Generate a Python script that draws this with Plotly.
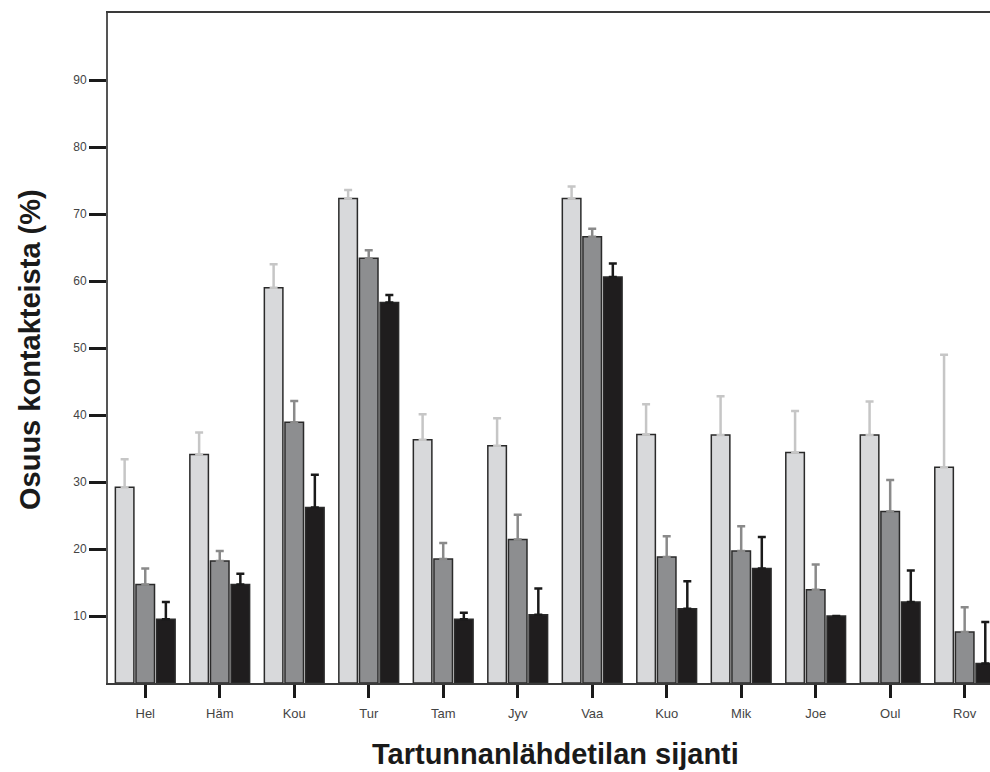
import plotly.graph_objects as go

# Regions (source location of the infection)
regions = ["Hel", "Häm", "Kou", "Tur", "Tam", "Jyv", "Vaa", "Kuo", "Mik", "Joe", "Oul", "Rov"]

# Share of contacts (%) for the three contact groups
share_light = [29.2, 34.1, 59.0, 72.3, 36.3, 35.4, 72.3, 37.1, 37.0, 34.4, 37.0, 32.2]
share_mid = [14.7, 18.2, 38.9, 63.4, 18.5, 21.4, 66.6, 18.8, 19.7, 13.9, 25.6, 7.6]
share_dark = [9.5, 14.7, 26.2, 56.8, 9.5, 10.2, 60.6, 11.1, 17.1, 10.0, 12.1, 2.9]

# Upper error (percentage points above the bar)
err_light = [4.2, 3.3, 3.5, 1.3, 3.8, 4.1, 1.8, 4.5, 5.8, 6.2, 5.0, 16.8]
err_mid = [2.4, 1.5, 3.2, 1.2, 2.4, 3.7, 1.2, 3.1, 3.7, 3.8, 4.7, 3.7]
err_dark = [2.6, 1.6, 4.9, 1.1, 1.0, 3.9, 2.0, 4.1, 4.7, 0.0, 4.7, 6.2]

y_ticks = [10, 20, 30, 40, 50, 60, 70, 80, 90]

series = [
    (share_light, err_light, "#d8d9db", "#c6c6c6"),
    (share_mid, err_mid, "#8d8e90", "#8a8a8a"),
    (share_dark, err_dark, "#1f1d1e", "#1a1a1a"),
]

fig = go.Figure()
for vals, errs, fill, ecol in series:
    fig.add_trace(go.Bar(
        x=regions,
        y=vals,
        marker=dict(color=fill, line=dict(color="#2a2a2a", width=1.5)),
        error_y=dict(type="data", symmetric=False, array=errs,
                     arrayminus=[0] * len(errs), color=ecol,
                     thickness=2.5, width=4),
        showlegend=False,
    ))

plot_left, plot_width = 108, 882

fig.update_layout(
    width=990,
    height=772,
    margin=dict(l=plot_left, r=0, t=13, b=89),
    paper_bgcolor="white",
    plot_bgcolor="white",
    barmode="group",
    bargap=0.17,
    bargroupgap=0.1,
    font=dict(family="Liberation Sans, Arial, sans-serif", color="#333333"),
    xaxis=dict(
        range=[-0.5, 11.34],
        showline=True, linecolor="#3a3a3a", linewidth=2, mirror=True,
        ticks="outside", ticklen=13, tickwidth=3, tickcolor="#1a1a1a",
        tickfont=dict(size=13, color="#444444"),
        ticklabelstandoff=4,
        showgrid=False, zeroline=False,
    ),
    yaxis=dict(
        range=[0, 100],
        tickvals=y_ticks,
        showline=True, linecolor="#555555", linewidth=2,
        ticks="outside", ticklen=17, tickwidth=3, tickcolor="#1a1a1a",
        tickfont=dict(size=12, color="#444444"),
        showgrid=False, zeroline=False,
    ),
    annotations=[
        dict(
            text="<b>Tartunnanlähdetilan sijanti</b>",
            xref="paper", yref="paper",
            x=(555 - plot_left) / plot_width, y=(683 - 754) / 670,
            xanchor="center", yanchor="middle",
            showarrow=False,
            font=dict(size=29, color="#1a1a1a"),
        ),
        dict(
            text="<b>Osuus kontakteista (%)</b>",
            xref="paper", yref="paper",
            x=(30 - plot_left) / plot_width, y=(683 - 350) / 670,
            xanchor="center", yanchor="middle",
            textangle=-90,
            showarrow=False,
            font=dict(size=29, color="#1a1a1a"),
        ),
    ],
)

fig.write_html("out.html")
